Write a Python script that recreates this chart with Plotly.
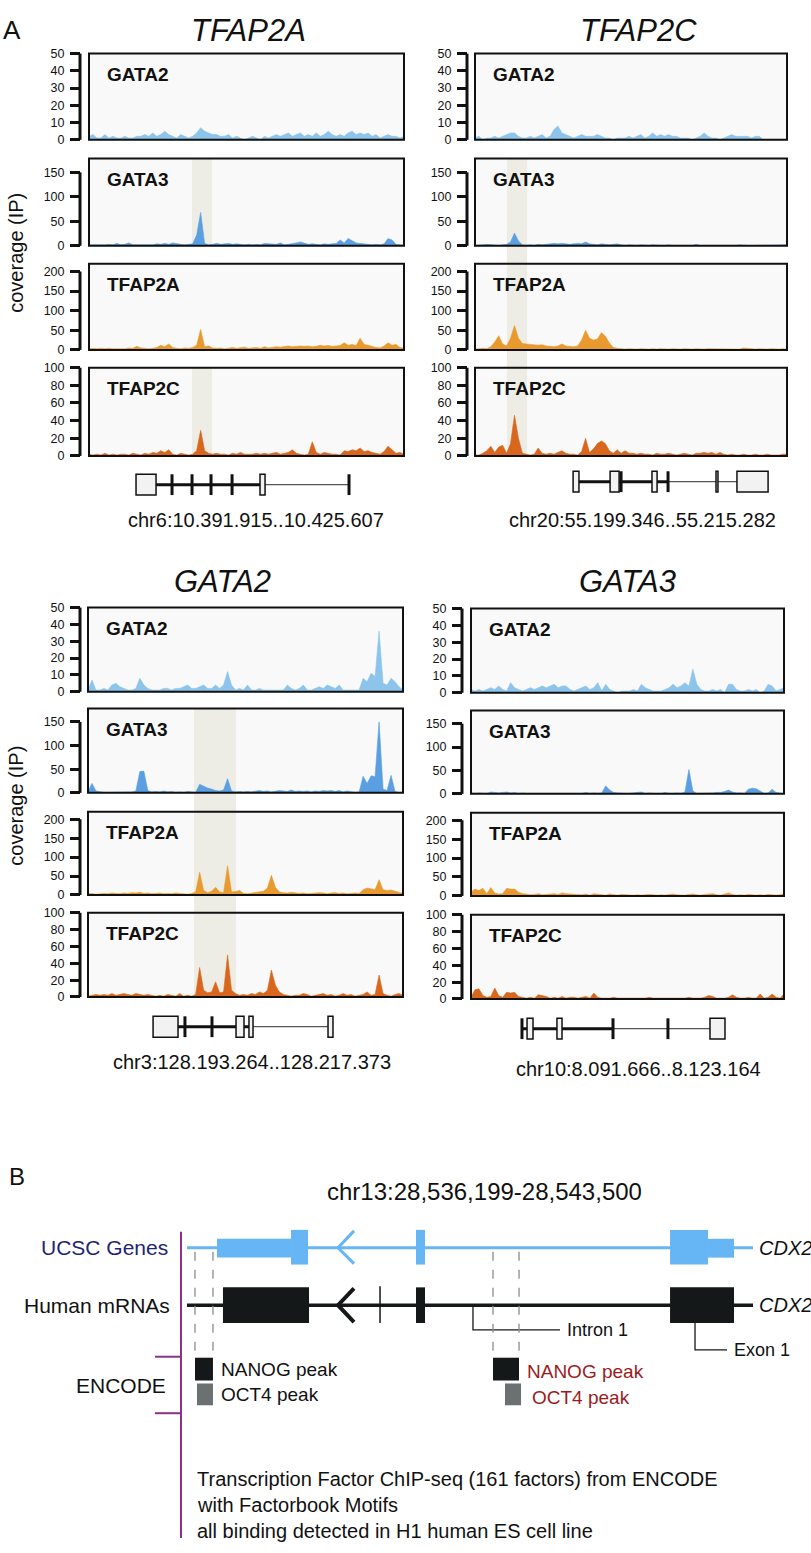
import numpy as np
import plotly.graph_objects as go

W, H = 811, 1553
FONT = "Liberation Sans, Arial, sans-serif"

# ---------------- panel A data ----------------
LOCI = ["TFAP2A", "TFAP2C", "GATA2", "GATA3"]
CHROMS = ["chr6", "chr20", "chr3", "chr10"]
STARTS = [10391915, 55199346, 128193264, 8091666]
ENDS = [10425607, 55215282, 128217373, 8123164]
FACTORS = ["GATA2", "GATA3", "TFAP2A", "TFAP2C"]
Y_TICKS = [[0, 10, 20, 30, 40, 50], [0, 50, 100, 150], [0, 50, 100, 150, 200], [0, 20, 40, 60, 80, 100]]
Y_MAX = [50, 178, 220, 100]
COLORS = ["#8cc4ec", "#5a9fe2", "#e99a2e", "#d9661d"]

# coverage (IP) along each window, one list per locus / factor
tfap2a_gata2 = [2,3,1,1,3,1,2,1,1,2,1,1,2,2,3,2,4,2,3,5,3,2,1,3,2,1,2,4,7,5,4,3,3,2,2,3,1,2,1,0,
                1,2,1,0,2,1,2,3,2,3,4,2,3,4,2,3,2,4,2,3,5,3,2,3,2,4,5,3,4,3,4,2,3,1,2,3,2,2,1,2]
tfap2a_gata3 = [2,2,1,2,2,3,2,5,2,3,6,2,2,3,2,3,2,4,3,5,3,6,4,3,2,3,4,22,68,5,2,3,5,3,4,5,3,4,3,2,
                3,2,3,2,5,4,3,3,6,2,3,4,6,8,5,3,4,3,2,4,3,4,5,12,6,15,10,6,5,4,3,2,3,2,4,15,12,3,2,1]
tfap2a_tfap2a = [3,4,3,4,3,4,3,3,4,3,5,4,9,5,4,3,4,6,12,8,15,6,4,3,5,4,6,12,52,8,10,5,4,5,3,4,6,4,5,7,
                 4,5,6,4,8,5,6,8,7,9,10,8,9,10,9,10,8,9,12,10,11,9,10,11,18,12,14,11,30,14,12,8,6,5,10,18,12,14,6,4]
tfap2a_tfap2c = [2,1,2,1,3,1,2,1,2,2,1,3,2,1,3,2,4,3,6,4,7,2,1,3,2,1,2,6,29,6,3,2,3,2,2,1,3,2,4,2,
                 2,2,3,2,3,2,3,4,2,3,4,7,3,2,1,2,16,4,2,4,3,2,2,1,6,5,7,6,9,5,6,4,3,2,5,11,7,3,4,2]

tfap2c_gata2 = [1,2,0,1,1,2,1,2,3,4,4,2,1,1,2,1,2,3,1,2,6,8,4,3,2,1,2,3,2,2,2,3,2,1,1,0,1,1,1,2,
                1,2,3,1,2,4,2,3,2,3,2,2,1,1,1,0,1,2,4,2,1,1,0,1,2,3,2,2,2,2,1,2,2,0,0,0,0,0,0,0]
tfap2c_gata3 = [1,1,2,3,2,1,1,2,3,8,26,10,2,1,2,1,3,2,3,4,5,4,5,4,3,4,5,4,8,4,3,2,4,3,2,3,4,2,1,2,
                1,1,2,1,1,2,1,1,1,2,1,1,1,1,1,1,3,1,1,1,1,0,1,1,1,1,1,2,1,1,0,1,1,1,1,2,1,1,1,2]
tfap2c_tfap2a = [2,3,4,3,8,20,36,15,10,30,62,30,16,15,14,12,12,13,10,9,8,10,15,10,9,8,10,25,50,30,25,28,44,35,18,6,4,3,2,3,
                 2,2,3,2,2,3,2,3,2,2,3,2,2,3,2,2,3,2,2,3,3,2,3,2,2,3,2,2,5,4,3,2,3,2,2,3,2,2,3,2]
tfap2c_tfap2c = [1,1,3,6,11,4,10,12,3,14,46,20,3,2,1,2,9,3,2,3,2,4,6,3,2,2,1,5,20,4,8,14,17,14,6,3,7,3,6,3,
                 3,2,3,2,2,1,3,2,2,3,2,1,2,3,2,1,3,3,4,3,4,2,4,2,1,2,1,1,2,1,1,2,1,1,2,1,1,1,2,2]

gata2_gata2 = [1,7,1,1,2,1,4,5,3,2,1,1,2,8,4,2,1,1,1,2,2,1,2,2,3,4,2,2,3,4,2,2,4,2,4,12,4,1,2,1,
               4,1,1,2,1,1,1,1,1,1,4,2,1,2,4,1,1,2,3,2,4,3,2,4,1,1,1,1,1,8,6,11,9,36,5,4,8,6,3,1]
gata2_gata3 = [3,20,4,2,1,1,1,2,1,1,1,2,4,45,46,5,2,3,2,4,2,3,1,2,1,3,2,1,18,14,10,8,5,4,6,30,4,2,3,2,
               3,2,3,5,3,4,2,3,5,4,3,6,3,4,3,4,2,4,3,5,4,5,3,5,2,4,2,1,2,35,20,36,34,150,8,5,37,3,1,1]
gata2_tfap2a = [3,4,2,3,4,3,5,4,3,5,4,6,5,7,4,5,3,4,5,3,4,3,5,4,3,2,4,8,60,12,6,10,20,8,6,77,8,9,12,4,
                3,5,6,8,10,18,52,20,8,6,5,7,6,4,5,3,4,5,6,5,3,5,6,4,5,3,4,5,4,14,18,16,14,40,14,12,13,10,6,4]
gata2_tfap2c = [1,2,3,2,3,2,4,2,3,4,3,2,4,3,2,3,2,1,2,1,3,2,1,4,1,2,1,3,35,8,5,6,18,5,6,50,8,4,2,3,
                2,4,3,6,4,8,32,14,6,3,2,1,2,2,4,3,1,2,3,4,2,3,1,2,4,2,3,1,2,3,6,2,3,26,4,2,1,3,4,2]

gata3_gata2 = [2,1,2,1,2,3,2,4,2,1,6,3,2,1,2,3,2,3,4,3,4,5,3,4,4,2,1,2,3,4,2,3,6,1,5,2,1,0,1,1,
               1,2,1,5,3,2,1,1,1,2,3,5,3,4,6,4,14,5,2,1,1,2,1,2,0,5,5,2,1,1,2,1,2,0,1,5,4,1,2,3]
gata3_gata3 = [2,1,2,2,1,4,3,2,3,4,2,3,1,2,1,1,2,1,2,1,1,2,2,1,1,2,1,2,1,3,1,2,1,2,17,8,3,2,1,1,
               1,2,2,4,1,2,1,1,1,3,1,1,2,1,4,52,6,1,1,1,1,2,3,3,5,8,4,2,2,1,10,12,11,6,1,2,10,3,1,0]
gata3_tfap2a = [10,18,14,20,6,22,8,5,6,20,18,18,10,6,5,3,4,6,3,4,5,6,4,8,6,5,4,3,3,5,2,6,4,3,2,5,3,2,4,3,
                3,2,3,2,3,4,3,2,3,2,4,5,3,3,2,4,5,3,2,4,5,6,3,2,5,8,4,2,3,2,4,3,2,3,2,4,3,2,3,6]
gata3_tfap2c = [2,11,12,4,2,3,13,4,2,8,7,8,3,2,1,2,1,5,4,3,1,2,1,3,1,2,2,1,2,3,1,7,2,1,1,1,2,1,1,1,
                1,1,1,1,1,2,1,1,1,1,1,1,1,1,1,2,1,1,1,2,4,3,1,1,1,2,5,2,1,1,2,1,1,6,1,2,6,2,1,6]

COVERAGE = [
    [tfap2a_gata2, tfap2a_gata3, tfap2a_tfap2a, tfap2a_tfap2c],
    [tfap2c_gata2, tfap2c_gata3, tfap2c_tfap2a, tfap2c_tfap2c],
    [gata2_gata2, gata2_gata3, gata2_tfap2a, gata2_tfap2c],
    [gata3_gata2, gata3_gata3, gata3_tfap2a, gata3_tfap2c],
]

# gene models, kb from window start
EXON_BOXES = [
    [(5.03, 7.17), (18.29, 18.83)],
    [(5.01, 5.31), (6.90, 7.36), (9.04, 9.30), (12.31, 12.41), (13.38, 14.97)],
    [(4.98, 6.89), (11.33, 11.94), (12.32, 12.63), (18.37, 18.75)],
    [(5.64, 6.24), (8.65, 9.16), (24.05, 25.56)],
]
EXON_BARS = [[8.88, 11.02, 13.05, 15.30, 27.81], [7.46, 9.86], [7.42, 9.49], [5.13, 14.29, 19.82]]
INTRON_THICK = [(7.17, 18.29), (5.31, 9.86), (6.89, 12.32), (5.13, 14.29)]
INTRON_THIN = [(18.83, 27.81), (9.86, 13.38), (12.63, 18.37), (14.29, 24.05)]
# highlighted regions (kb from start, first track, last track)
HIGHLIGHTS = [[(11.02, 13.16, 1, 1), (11.02, 13.16, 3, 3)], [(1.63, 2.66, 1, 3)], [(8.11, 11.33, 1, 3)], []]

# ---------------- panel B data ----------------
B_CHROM, B_START, B_END = "chr13", 28536199, 28543500
UCSC_UTR = [(28536586, 28537541), (28542920, 28543255)]
UCSC_CDS = [(28537541, 28537760), (28539153, 28539269), (28542430, 28542920)]
MRNA_EXONS = [(28536663, 28537773), (28539153, 28539269), (28542430, 28543255)]
MRNA_MARK = 28538689
STRAND_ARROW = (28538147, 28538353)
NANOG_PEAKS = [(28536302, 28536534), (28540146, 28540482)]
OCT4_PEAKS = [(28536328, 28536534), (28540301, 28540508)]
INTRON1_POS = 28539888
EXON1_POS = 28542752

# ---------------- layout (pixels) ----------------
BLOCKS = [
    dict(box=(89, 404), axis=80, tops=[47, 153, 259, 364], bots=[134, 241, 346, 453], title=(248, 24), gene_y=482, coord=(256, 518)),
    dict(box=(475, 787), axis=467, tops=[47, 153, 259, 364], bots=[134, 241, 346, 453], title=(638, 24), gene_y=479, coord=(642, 518)),
    dict(box=(88, 403), axis=80, tops=[606, 708, 812, 914], bots=[691, 793, 896, 999], title=(222, 580), gene_y=1029, coord=(252, 1065)),
    dict(box=(471, 784), axis=462, tops=[607, 710, 813, 916], bots=[692, 794, 897, 1001], title=(627, 580), gene_y=1031, coord=(638, 1072)),
]


def px(x):
    return x / W


def py(y):
    return 1 - y / H


def dots(n):
    return f"{n:,}".replace(",", ".")


fig = go.Figure()
shapes, annotations, axes = [], [], {}


def text(x, y, s, size, xanchor="center", color="#111", angle=0):
    annotations.append(dict(x=px(x), y=py(y), xref="paper", yref="paper", text=s, showarrow=False,
                            xanchor=xanchor, yanchor="middle", textangle=angle,
                            font=dict(family=FONT, size=size, color=color)))


for b, blk in enumerate(BLOCKS):
    L = (ENDS[b] - STARTS[b]) / 1000
    for t in range(4):
        k = b * 4 + t + 1
        xa, ya = ("x", "y") if k == 1 else (f"x{k}", f"y{k}")
        dom_y = [py(blk["bots"][t]), py(blk["tops"][t])]
        axes["xaxis" if k == 1 else f"xaxis{k}"] = dict(
            domain=[px(blk["box"][0]), px(blk["box"][1])], range=[0, L], anchor=ya,
            showticklabels=False, showgrid=False, zeroline=False, showline=False, ticks="")
        axes["yaxis" if k == 1 else f"yaxis{k}"] = dict(
            domain=dom_y, range=[0, Y_MAX[t] + 0.01], anchor="free", position=px(blk["axis"]),
            showgrid=False, zeroline=False, showline=False, ticks="outside", ticklen=10, tickwidth=2.5,
            tickcolor="#111", tickvals=Y_TICKS[t], ticklabelstandoff=3,
            tickfont=dict(family=FONT, size=12.5, color="#111"))
        vals = COVERAGE[b][t]
        fig.add_trace(go.Scatter(x=np.linspace(0, L, len(vals)), y=vals, xaxis=xa, yaxis=ya,
                                 mode="lines", fill="tozeroy", fillcolor=COLORS[t],
                                 line=dict(color=COLORS[t], width=0.6), hoverinfo="skip",
                                 showlegend=False))
        # panel background
        shapes.append(dict(type="rect", xref=f"{xa} domain", yref=f"{ya} domain", x0=0, x1=1, y0=0, y1=1,
                           fillcolor="#f9f9f9", line=dict(width=0), layer="below"))
        # box frame
        shapes.append(dict(type="rect", xref=f"{xa} domain", yref=f"{ya} domain", x0=0, x1=1, y0=0, y1=1,
                           line=dict(color="#111", width=2), layer="above"))
        # y axis line from 0 to top tick
        top_frac = Y_TICKS[t][-1] / (Y_MAX[t] + 0.01)
        shapes.append(dict(type="line", xref="paper", yref="paper", x0=px(blk["axis"]), x1=px(blk["axis"]),
                           y0=dom_y[0], y1=dom_y[0] + top_frac * (dom_y[1] - dom_y[0]),
                           line=dict(color="#111", width=3)))
        text(blk["box"][0] + 16, blk["tops"][t] + 21, f"<b>{FACTORS[t]}</b>", 19, xanchor="left")

    # highlighted regions
    for (h0, h1, t0, t1) in HIGHLIGHTS[b]:
        k = b * 4 + t0 + 1
        shapes.append(dict(type="rect", xref="x" if k == 1 else f"x{k}", yref="paper", x0=h0, x1=h1,
                           y0=py(blk["bots"][t1]), y1=py(blk["tops"][t0]),
                           fillcolor="#eeede5", line=dict(width=0), layer="below"))

    # gene model under the bottom track
    gx = f"x{b * 4 + 4}"
    gy = blk["gene_y"]
    shapes.append(dict(type="line", xref=gx, yref="paper", x0=INTRON_THIN[b][0], x1=INTRON_THIN[b][1],
                       y0=py(gy), y1=py(gy), line=dict(color="#555", width=1.3)))
    shapes.append(dict(type="line", xref=gx, yref="paper", x0=INTRON_THICK[b][0], x1=INTRON_THICK[b][1],
                       y0=py(gy), y1=py(gy), line=dict(color="#111", width=3)))
    for xb in EXON_BARS[b]:
        shapes.append(dict(type="line", xref=gx, yref="paper", x0=xb, x1=xb, y0=py(gy + 10.5), y1=py(gy - 10.5),
                           line=dict(color="#111", width=3)))
    for (e0, e1) in EXON_BOXES[b]:
        shapes.append(dict(type="rect", xref=gx, yref="paper", x0=e0, x1=e1, y0=py(gy + 10.5), y1=py(gy - 10.5),
                           fillcolor="#f2f2f2", line=dict(color="#111", width=1.5)))

    text(blk["title"][0], blk["title"][1], f"<i>{LOCI[b]}</i>", 31)
    text(blk["coord"][0], blk["coord"][1], f"{CHROMS[b]}:{dots(STARTS[b])}..{dots(ENDS[b])}", 20)

text(12, 23, "A", 26)
text(16, 248, "coverage (IP)", 20, angle=-90)
text(16, 806, "coverage (IP)", 20, angle=-90)

# ---------------- panel B ----------------
bpp = (B_END - B_START) / (753 - 187)
axes["xaxis17"] = dict(domain=[0, 1], range=[B_START - 187 * bpp, B_END + (W - 753) * bpp], anchor="y17",
                       visible=False)
axes["yaxis17"] = dict(domain=[0, 1], range=[H, 0], anchor="x17", visible=False)
fig.add_trace(go.Scatter(x=[B_START, B_END], y=[1252, 1252], xaxis="x17", yaxis="y17", mode="lines",
                         line=dict(color="#66b5f5", width=3), hoverinfo="skip", showlegend=False))
fig.add_trace(go.Scatter(x=[B_START, B_END], y=[1310, 1310], xaxis="x17", yaxis="y17", mode="lines",
                         line=dict(color="#151818", width=3.5), hoverinfo="skip", showlegend=False))


def gpos(x):
    return B_START + (x - 187) * bpp


def bshape(**kw):
    kw.update(xref="x17", yref="y17")
    shapes.append(kw)


BLUE, BLACK, GREY = "#66b5f5", "#151818", "#6b7070"
for (e0, e1) in UCSC_UTR:
    bshape(type="rect", x0=e0, x1=e1, y0=1243, y1=1262, fillcolor=BLUE, line=dict(width=0))
for (e0, e1) in UCSC_CDS:
    bshape(type="rect", x0=e0, x1=e1, y0=1234, y1=1269, fillcolor=BLUE, line=dict(width=0))
a0, a1 = STRAND_ARROW
bshape(type="path", path=f"M {a1},1235 L {a0},1252 L {a1},1268", line=dict(color=BLUE, width=3))
for (e0, e1) in MRNA_EXONS:
    bshape(type="rect", x0=e0, x1=e1, y0=1292, y1=1328, fillcolor=BLACK, line=dict(width=0))
bshape(type="path", path=f"M {a1},1293 L {a0},1310 L {a1},1327", line=dict(color=BLACK, width=4))
bshape(type="line", x0=MRNA_MARK, x1=MRNA_MARK, y0=1291, y1=1328, line=dict(color=BLACK, width=1.5))
bshape(type="path", path=f"M {INTRON1_POS},1310 L {INTRON1_POS},1335 L {gpos(560)},1335",
       line=dict(color=BLACK, width=1.3))
bshape(type="path", path=f"M {EXON1_POS},1328 L {EXON1_POS},1355 L {gpos(727)},1355",
       line=dict(color=BLACK, width=1.3))
for (p0, p1) in NANOG_PEAKS:
    for xd in (p0, p1):
        bshape(type="line", x0=xd, x1=xd, y0=1256, y1=1362, line=dict(color="#8c8c8c", width=1.3, dash="dash"))
    bshape(type="rect", x0=p0, x1=p1, y0=1363, y1=1386, fillcolor=BLACK, line=dict(width=0))
for (p0, p1) in OCT4_PEAKS:
    bshape(type="rect", x0=p0, x1=p1, y0=1389, y1=1411, fillcolor=GREY, line=dict(width=0))
PURPLE = "#8e2f88"
bshape(type="line", x0=gpos(181), x1=gpos(181), y0=1236, y1=1545, line=dict(color=PURPLE, width=2))
for yb in (1362, 1419):
    bshape(type="line", x0=gpos(155), x1=gpos(181), y0=yb, y1=yb, line=dict(color=PURPLE, width=2))

text(17, 1180, "B", 24)
text(484, 1195, f"{B_CHROM}:{B_START:,}-{B_END:,}", 24)
text(170, 1252, "UCSC Genes", 21, xanchor="right", color="#1d2476")
text(172, 1310, "Human mRNAs", 21, xanchor="right")
text(168, 1391, "ENCODE", 21, xanchor="right")
text(757, 1252, "<i>CDX2</i>", 20, xanchor="left")
text(757, 1310, "<i>CDX2</i>", 20, xanchor="left")
text(565, 1335, "Intron 1", 18, xanchor="left")
text(732, 1355, "Exon 1", 18, xanchor="left")
text(219, 1375, "NANOG peak", 19, xanchor="left")
text(219, 1400, "OCT4 peak", 19, xanchor="left")
text(525, 1377, "NANOG peak", 19, xanchor="left", color="#9b1b1e")
text(530, 1403, "OCT4 peak", 19, xanchor="left", color="#9b1b1e")
text(195, 1485, "Transcription Factor ChIP-seq (161 factors) from ENCODE", 20, xanchor="left")
text(195, 1512, "with Factorbook Motifs", 20, xanchor="left")
text(195, 1538, "all binding detected in H1 human ES cell line", 20, xanchor="left")

fig.update_layout(width=W, height=H, margin=dict(l=0, r=0, t=0, b=0), paper_bgcolor="white",
                  plot_bgcolor="rgba(0,0,0,0)", showlegend=False, shapes=shapes, annotations=annotations,
                  font=dict(family=FONT), **axes)
# page body has a default 8px margin; drop it so the figure sits at the window corner
fig.write_html("out.html", config={"displayModeBar": False},
               post_script="document.body.style.margin='0';")
